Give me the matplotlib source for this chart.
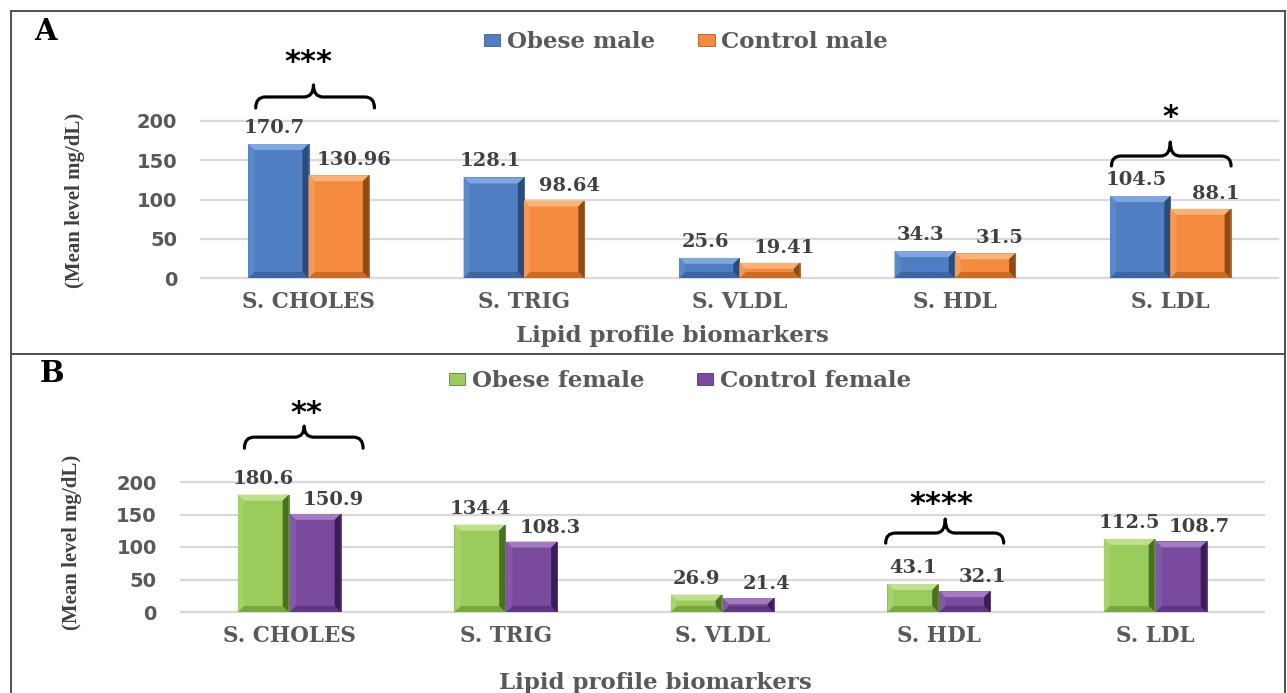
import matplotlib
matplotlib.use("Agg")
import matplotlib.pyplot as plt
from matplotlib.patches import Polygon, Patch, PathPatch
from matplotlib.path import Path
from matplotlib.lines import Line2D
import numpy as np

# ---------------- data ----------------
categories = ["S. CHOLES", "S. TRIG", "S. VLDL", "S. HDL", "S. LDL"]
obese_male = [170.7, 128.1, 25.6, 34.3, 104.5]
control_male = [130.96, 98.64, 19.41, 31.5, 88.1]
obese_female = [180.6, 134.4, 26.9, 43.1, 112.5]
control_female = [150.9, 108.3, 21.4, 32.1, 108.7]
y_ticks = [0, 50, 100, 150, 200]
legend_A = ["Obese male", "Control male"]
legend_B = ["Obese female", "Control female"]
signif_A = [(0, "***"), (4, "*")]
signif_B = [(0, "**"), (3, "****")]
x_title = "Lipid profile biomarkers"
y_title = "(Mean level mg/dL)"

# ---------------- styling ----------------
W, H = 1287, 693
fig = plt.figure(figsize=(W / 100, H / 100), dpi=100)
fig.patch.set_facecolor("white")


def fx(px):
    return px / W


def fy(py):
    return 1 - py / H


SERIF = "DejaVu Serif"
GRAY = "#595959"
LABEL = "#404040"

colors = {
    "blue": ("#4F7EC2", "#7FA6DD", "#2C4A7A", "#3D66A3", "#5A88C8"),
    "orange": ("#F58B3F", "#F9B27A", "#8E4A17", "#C96C28", "#F69A58"),
    "green": ("#9BCB5A", "#BFE08E", "#4A7022", "#7AA83F", "#A7D26A"),
    "purple": ("#7A4A9E", "#A27BC0", "#3A1C57", "#5E3682", "#8557A8"),
}


def bevel(ax, rects, cname):
    base, light, dark, mid, leftc = colors[cname]
    inv = ax.transData.inverted()
    for r in rects:
        x0, y0 = r.get_x(), r.get_y()
        x1, y1 = x0 + r.get_width(), y0 + r.get_height()
        (X0, Y0), (X1, Y1) = ax.transData.transform([(x0, y0), (x1, y1)])
        b = min(6.0, (Y1 - Y0) / 2.2, (X1 - X0) / 4)
        polys = [
            ([(X0, Y1), (X1, Y1), (X1 - b, Y1 - b), (X0 + b, Y1 - b)], light),
            ([(X0, Y0), (X1, Y0), (X1 - b, Y0 + b), (X0 + b, Y0 + b)], mid),
            ([(X0, Y0), (X0 + b, Y0 + b), (X0 + b, Y1 - b), (X0, Y1)], leftc),
            ([(X1, Y0), (X1 - b, Y0 + b), (X1 - b, Y1 - b), (X1, Y1)], dark),
        ]
        for pts, c in polys:
            d = inv.transform(pts)
            ax.add_patch(Polygon(d, closed=True, facecolor=c, edgecolor="none",
                                 zorder=4, clip_on=False))


def brace(ax, left, right, tip, y_end, y_mid, y_tip, r=0.045):
    verts = [
        (left, y_end), (left, y_mid), (left + r, y_mid),
        (tip - r, y_mid),
        (tip, y_mid), (tip, y_tip),
        (tip, y_mid), (tip + r, y_mid),
        (right - r, y_mid),
        (right, y_mid), (right, y_end),
    ]
    codes = [Path.MOVETO, Path.CURVE3, Path.CURVE3,
             Path.LINETO,
             Path.CURVE3, Path.CURVE3,
             Path.CURVE3, Path.CURVE3,
             Path.LINETO,
             Path.CURVE3, Path.CURVE3]
    ax.add_patch(PathPatch(Path(verts, codes), facecolor="none", edgecolor="black",
                           lw=2.3, capstyle="round", joinstyle="round",
                           clip_on=False, zorder=5))


def panel(rect, s1, s2, c1, c2, width, off, dlab1, dlab2, tick_pad, cat_pad,
          ylab_x, ylab_y):
    ax = fig.add_axes(rect)
    x = np.arange(len(categories))
    ax.set_xlim(-0.5, len(categories) - 0.5)
    ax.set_ylim(0, 200)
    ax.set_yticks(y_ticks)
    ax.set_xticks(x)
    ax.set_xticklabels(categories, fontfamily=SERIF, fontweight="bold",
                       fontsize=15.5, color=GRAY)
    ax.tick_params(axis="both", length=0)
    ax.tick_params(axis="y", pad=tick_pad, labelsize=14, labelcolor=GRAY)
    ax.tick_params(axis="x", pad=cat_pad)
    for t in ax.get_yticklabels():
        t.set_fontweight("bold")
    for s in ax.spines.values():
        s.set_visible(False)
    ax.set_axisbelow(True)
    ax.yaxis.grid(True, color="#D9D9D9", lw=1.6)
    for gl in ax.get_ygridlines():
        gl.set_clip_on(False)
    ax.patch.set_alpha(0)
    b1 = ax.bar(x - off, s1, width, color=colors[c1][0], edgecolor=colors[c1][2],
                lw=0.5, zorder=3)
    b2 = ax.bar(x + off, s2, width, color=colors[c2][0], edgecolor=colors[c2][2],
                lw=0.5, zorder=3)
    bevel(ax, b1, c1)
    bevel(ax, b2, c2)
    for xi, v in zip(x, s1):
        ax.annotate(f"{v:g}", (xi - off, v), xytext=dlab1, textcoords="offset pixels",
                    ha="center", va="center", fontfamily=SERIF, fontweight="bold",
                    fontsize=14, color=LABEL, annotation_clip=False)
    for xi, v in zip(x, s2):
        ax.annotate(f"{v:g}", (xi + off, v), xytext=dlab2, textcoords="offset pixels",
                    ha="center", va="center", fontfamily=SERIF, fontweight="bold",
                    fontsize=14, color=LABEL, annotation_clip=False)
    fig.text(fx(ylab_x), fy(ylab_y), y_title, rotation=90, ha="center", va="center",
             fontfamily="Liberation Serif", fontweight="bold", fontsize=15,
             color=LABEL)
    return ax


# ---------------- panel A ----------------
axA = panel([fx(200.8), fy(278), (1278 - 200.8) / W, (278 - 121) / H],
            obese_male, control_male, "blue", "orange", 0.28, 0.14,
            (-4, 16), (15, 15), 17, 9.5, 75, 200)
fig.text(fx(672), fy(336), x_title, ha="center", va="center", fontfamily=SERIF,
         fontweight="bold", fontsize=16.5, color=GRAY)
fig.text(fx(46), fy(31), "A", ha="center", va="center", fontfamily=SERIF,
         fontweight="bold", fontsize=21, color="black")
handlesA = [Patch(facecolor=colors["blue"][0], edgecolor=colors["blue"][2], lw=0.5),
            Patch(facecolor=colors["orange"][0], edgecolor=colors["orange"][2], lw=0.5)]
fig.legend(handlesA, legend_A, loc="center", bbox_to_anchor=(fx(686), fy(42)),
           ncol=2, frameon=False, handlelength=0.7, handleheight=0.45,
           handletextpad=0.3, columnspacing=1.9,
           prop={"family": SERIF, "weight": "bold", "size": 16.5},
           labelcolor=GRAY)

# bracket geometry: left, right, tip (x offsets), y end, y mid, y tip, star x, star y
bracket_geom_A = {0: (-0.245, 0.306, 0.023, 216.6, 230.6, 245.9, 0.0, 275),
                  4: (-0.273, 0.282, 0.0, 142.7, 155.4, 173.2, 0.0, 205)}
for ci, txt in signif_A:
    l, r, t, ye, ym, yt, sx, sy = bracket_geom_A[ci]
    brace(axA, ci + l, ci + r, ci + t, ye, ym, yt)
    axA.text(ci + sx, sy, txt, ha="center", va="center", fontfamily="DejaVu Sans",
             fontweight="bold", fontsize=22, color="black", clip_on=False)

# ---------------- panel B ----------------
axB = panel([fx(181), fy(612), (1263.5 - 181) / W, (612 - 482) / H],
            obese_female, control_female, "green", "purple", 0.235, 0.12,
            (0, 16), (18, 14), 17.5, 9, 72, 542)
fig.text(fx(655), fy(683), x_title, ha="center", va="center", fontfamily=SERIF,
         fontweight="bold", fontsize=16.5, color=GRAY)
fig.text(fx(52), fy(374), "B", ha="center", va="center", fontfamily=SERIF,
         fontweight="bold", fontsize=21, color="black")
handlesB = [Patch(facecolor=colors["green"][0], edgecolor=colors["green"][2], lw=0.5),
            Patch(facecolor=colors["purple"][0], edgecolor=colors["purple"][2], lw=0.5)]
fig.legend(handlesB, legend_B, loc="center", bbox_to_anchor=(fx(680), fy(381)),
           ncol=2, frameon=False, handlelength=0.7, handleheight=0.45,
           handletextpad=0.3, columnspacing=2.3,
           prop={"family": SERIF, "weight": "bold", "size": 16.5},
           labelcolor=GRAY)

bracket_geom_B = {0: (-0.207, 0.341, 0.069, 252, 269, 286, 0.078, 306),
                  3: (-0.245, 0.30, 0.03, 106, 121.5, 143, 0.01, 166)}
for ci, txt in signif_B:
    l, r, t, ye, ym, yt, sx, sy = bracket_geom_B[ci]
    brace(axB, ci + l, ci + r, ci + t, ye, ym, yt)
    axB.text(ci + sx, sy, txt, ha="center", va="center", fontfamily="DejaVu Sans",
             fontweight="bold", fontsize=22, color="black", clip_on=False)

# ---------------- frames ----------------
fc = "#505050"
for xs, ys in [([11, 1285], [11, 11]), ([11, 11], [11, 693]),
               ([1285, 1285], [11, 693]), ([11, 1285], [354, 354])]:
    fig.add_artist(Line2D([fx(v) for v in xs], [fy(v) for v in ys],
                          transform=fig.transFigure, color=fc, lw=1.4))

fig.savefig("out.png", dpi=100)
